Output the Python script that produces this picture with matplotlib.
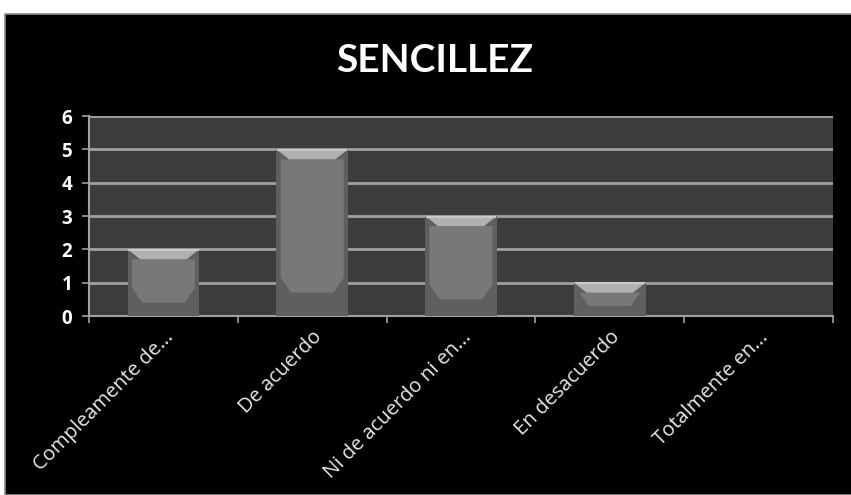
import matplotlib.pyplot as plt
from matplotlib.patches import Polygon, Rectangle

# datos de la encuesta
categorias = ['Compleamente de...', 'De acuerdo', 'Ni de acuerdo ni en...',
              'En desacuerdo', 'Totalmente en...']
valores = [2, 5, 3, 1, 0]

fig = plt.figure(figsize=(8.51, 4.95), dpi=100)
fig.patch.set_facecolor('white')
# fondo negro del grafico
fondo_negro = Rectangle((5 / 851, 0), 1, 1 - 14 / 495, transform=fig.transFigure,
                        facecolor='black', edgecolor='#8a8a8a', lw=1.2, zorder=-5)
fig.add_artist(fondo_negro)

ax = fig.add_axes([89 / 851, 179 / 495, 744 / 851, 200 / 495])
ax.set_zorder(2)
ax.set_facecolor('#3c3c3c')

x = list(range(len(categorias)))
ancho = 0.48
ax.bar(x, valores, width=ancho, color='#5f5f5f', zorder=3)

# efecto de bisel en cada barra
for xi, v in zip(x, valores):
    if v <= 0:
        continue
    x0, x1 = xi - ancho / 2, xi + ancho / 2
    i = 0.028
    bisel = min(0.3, v * 0.3)
    fondo = 0.1 * v + 0.2
    cuerpo = Polygon([(x0 + i, v - bisel), (x1 - i, v - bisel), (x1 - i, fondo + 0.45),
                      (x1 - 3.5 * i, fondo), (x0 + 3.5 * i, fondo), (x0 + i, fondo + 0.45)],
                     closed=True, facecolor='#787878', edgecolor='none', zorder=4)
    ax.add_patch(cuerpo)
    tapa = Polygon([(x0, v), (x1, v), (x1 - 3 * i, v - bisel), (x0 + 3 * i, v - bisel)],
                   closed=True, facecolor='#b0b0b0', edgecolor='none', zorder=5)
    ax.add_patch(tapa)
    ax.plot([x0 + 0.01, x1 - 0.01], [v - 0.02, v - 0.02], color='#c8c8c8', lw=1.5, zorder=6)

ax.set_xlim(-0.5, len(categorias) - 0.5)
ax.set_ylim(0, 6)
ax.set_yticks(range(0, 7))
ax.yaxis.grid(True, color='#a0a0a0', lw=2)
ax.set_axisbelow(True)

ax.set_xticks(x)
ax.set_xticklabels(categorias, rotation=45, ha='right', rotation_mode='anchor',
                   color='#e8e8e8', fontsize=14.5, family='Open Sans')
ax.set_xticks([k - 0.5 for k in range(len(categorias) + 1)], minor=True)
ax.tick_params(axis='x', which='major', length=0, pad=8)
ax.tick_params(axis='x', which='minor', length=5, color='#a0a0a0', width=1.2)
for lab in ax.get_yticklabels():
    lab.set_fontweight('bold')
    lab.set_family('Open Sans')
ax.tick_params(axis='y', colors='white', labelsize=13.5, length=5, width=1.2, pad=7)
ax.tick_params(axis='y', color='#a0a0a0')

for s in ['top', 'right']:
    ax.spines[s].set_visible(False)
for s in ['left', 'bottom']:
    ax.spines[s].set_color('#a0a0a0')
    ax.spines[s].set_linewidth(1.5)

fig.text(435 / 851, 1 - 61 / 495, 'SENCILLEZ', ha='center', va='center',
         color='white', fontsize=28, fontweight='bold', family='Lato')

fig.savefig('out.png', dpi=100, facecolor=fig.get_facecolor())
